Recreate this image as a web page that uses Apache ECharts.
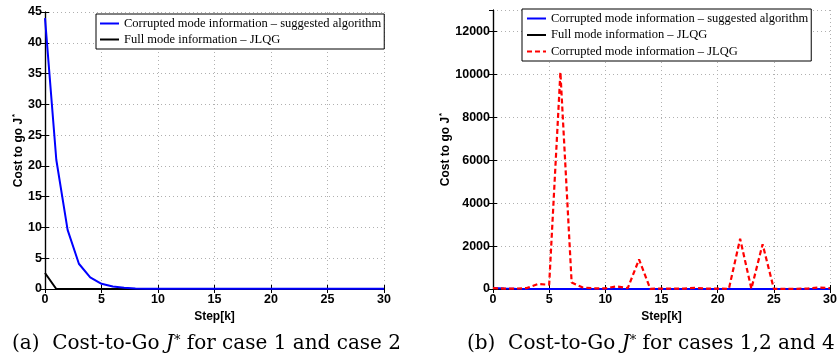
<!DOCTYPE html>
<html>
<head>
<meta charset="utf-8">
<script src="https://cdn.jsdelivr.net/npm/echarts@6/dist/echarts.min.js"></script>
<style>
  html, body { margin: 0; padding: 0; background: #fff; }
  #chart { width: 840px; height: 360px; }
</style>
</head>
<body>
<div id="chart"></div>
<script>
// steps k = 0..30
const steps = Array.from({ length: 31 }, (_, i) => i);

// case 1 / case 2 (left) and cases 1,2,4 (right)
const suggested = [44, 21, 9.6, 4.1, 1.9, 0.85, 0.4, 0.2, 0.1, 0.06, 0.04, 0.03, 0.03, 0.03, 0.03, 0.03,
  0.03, 0.03, 0.03, 0.03, 0.03, 0.03, 0.03, 0.03, 0.03, 0.03, 0.03, 0.03, 0.03, 0.03, 0.03];
const fullJLQG = [2.6, 0, 0, 0, 0, 0, 0, 0, 0, 0, 0, 0, 0, 0, 0, 0,
  0, 0, 0, 0, 0, 0, 0, 0, 0, 0, 0, 0, 0, 0, 0];
const corruptedJLQG = [40, 20, 20, 40, 230, 200, 10100, 300, 70, 30, 30, 120, 40, 1380, 10, 20,
  20, 20, 50, 20, 20, 10, 2340, 10, 2090, 10, 10, 10, 20, 70, 40];

const nameSug = 'Corrupted mode information \u2013 suggested algorithm';
const nameFull = 'Full mode information \u2013 JLQG';
const nameCor = 'Corrupted mode information \u2013 JLQG';

const tickFont = { color: '#000', fontFamily: 'Liberation Sans', fontWeight: 'bold', fontSize: 12.5 };
const gridLine = { show: true, lineStyle: { color: '#b0b0b0', type: [1, 3], width: 1 } };

function xAxes(g) {
  return [
    {
      type: 'value', gridIndex: g, min: 0, max: 30, interval: 5,
      name: 'Step[k]', nameLocation: 'middle', nameGap: 15,
      nameTextStyle: { ...tickFont, fontSize: 12 },
      axisLine: { lineStyle: { color: '#000', width: 1.2 } },
      axisTick: { inside: true, length: 4, lineStyle: { color: '#000' } },
      axisLabel: { ...tickFont, margin: 4 },
      splitLine: gridLine
    },
    {
      type: 'value', gridIndex: g, position: 'top', min: 0, max: 30, interval: 5,
      axisLine: { lineStyle: { color: '#000', width: 1.2 } },
      axisTick: { inside: true, length: 4, lineStyle: { color: '#000' } },
      axisLabel: { show: false }, splitLine: { show: false }
    }
  ];
}

function yAxes(g, max, interval, gap) {
  return [
    {
      type: 'value', gridIndex: g, min: 0, max: max, interval: interval,
      name: 'Cost to go J{s|*}', nameLocation: 'middle', nameGap: gap,
      nameTextStyle: {
        ...tickFont, fontSize: 12,
        rich: { s: { fontFamily: 'Liberation Sans', fontWeight: 'bold', fontSize: 8, color: '#000', padding: [0, 0, 7, 1] } }
      },
      axisLine: { show: true, lineStyle: { color: '#000', width: 1.2 } },
      axisTick: { show: true, inside: true, length: 4, lineStyle: { color: '#000' } },
      axisLabel: { ...tickFont, margin: 3, showMaxLabel: max % interval === 0, formatter: v => String(v) },
      splitLine: gridLine
    },
    {
      type: 'value', gridIndex: g, position: 'right', min: 0, max: max, interval: interval,
      axisLine: { show: true, lineStyle: { color: '#000', width: 1.2 } },
      axisTick: { show: true, inside: true, length: 4, lineStyle: { color: '#000' } },
      axisLabel: { show: false }, splitLine: { show: false }
    }
  ];
}

function line(name, data, xi, yi, color, extra) {
  return {
    name: name, type: 'line', xAxisIndex: xi, yAxisIndex: yi,
    data: steps.map((k, i) => [k, data[i]]),
    symbol: 'none', clip: false, animation: false,
    lineStyle: { color: color, width: 2, ...(extra || {}) },
    itemStyle: { color: color }
  };
}

const legendText = { fontFamily: 'Liberation Serif', fontSize: 12.5, color: '#000' };

const option = {
  backgroundColor: '#fff',
  animation: false,
  grid: [
    { left: 45, top: 12, width: 339, height: 277 },
    { left: 493, top: 10, width: 337, height: 279 }
  ],
  xAxis: [...xAxes(0), ...xAxes(1)],
  yAxis: [...yAxes(0, 45, 5, 15), ...yAxes(1, 13000, 2000, 31)],
  legend: [
    {
      data: [nameSug, nameFull], orient: 'vertical', left: 96, top: 14,
      itemWidth: 19, itemHeight: 12, itemGap: 3,
      padding: [3, 3, 3, 3],
      itemStyle: { opacity: 0 },
      backgroundColor: '#fff', borderColor: '#000', borderWidth: 1,
      textStyle: legendText
    },
    {
      data: [nameSug, nameFull, nameCor], orient: 'vertical', left: 522, top: 9,
      itemWidth: 19, itemHeight: 12, itemGap: 3.5,
      padding: [3, 3, 3, 4],
      itemStyle: { opacity: 0 },
      backgroundColor: '#fff', borderColor: '#000', borderWidth: 1,
      textStyle: legendText
    }
  ],
  series: [
    line(nameFull, fullJLQG, 0, 0, '#000'),
    line(nameSug, suggested, 0, 0, '#0000ff'),
    line(nameFull, fullJLQG, 2, 2, '#000'),
    line(nameSug, suggested, 2, 2, '#0000ff'),
    line(nameCor, corruptedJLQG, 2, 2, '#ff0000', { type: [5, 3], width: 2.2 })
  ],
  graphic: [
    {
      type: 'text', left: 12, top: 334,
      style: {
        text: '(a)  Cost-to-Go {i|J}{s|*} for case 1 and case 2',
        font: '20px "DejaVu Serif"', fill: '#000',
        rich: {
          i: { font: 'italic 20px "DejaVu Serif"', fill: '#000' },
          s: { font: '13px "DejaVu Serif"', fill: '#000', padding: [0, 0, 6, 0] }
        }
      }
    },
    {
      type: 'text', left: 467, top: 334,
      style: {
        text: '(b)  Cost-to-Go {i|J}{s|*} for cases 1,2 and 4',
        font: '20px "DejaVu Serif"', fill: '#000',
        rich: {
          i: { font: 'italic 20px "DejaVu Serif"', fill: '#000' },
          s: { font: '13px "DejaVu Serif"', fill: '#000', padding: [0, 0, 6, 0] }
        }
      }
    }
  ]
};

const chart = echarts.init(document.getElementById('chart'), null, { renderer: 'canvas' });
chart.setOption(option);
</script>
</body>
</html>
